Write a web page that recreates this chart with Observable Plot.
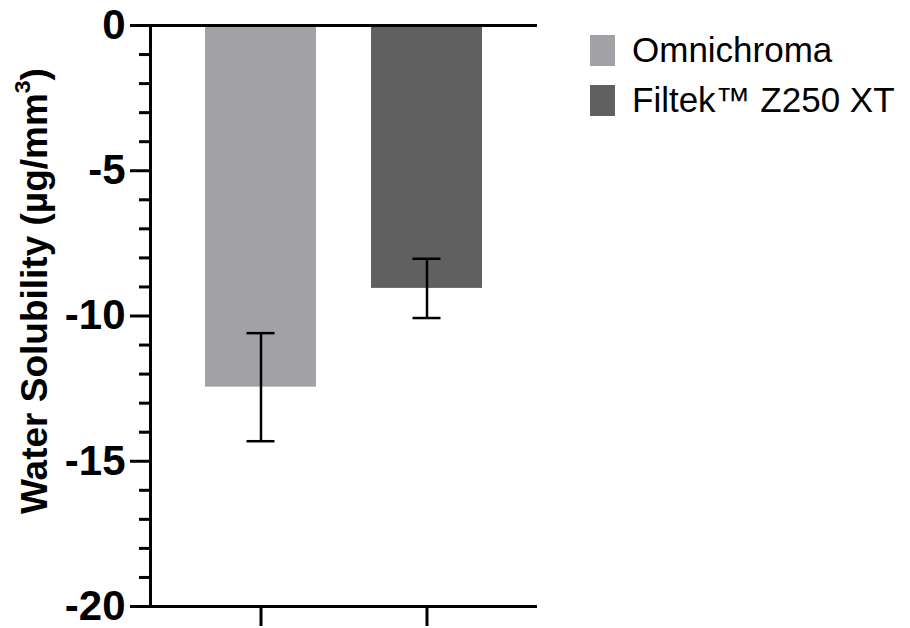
<!DOCTYPE html>
<html>
<head>
<meta charset="utf-8">
<script src="https://cdn.jsdelivr.net/npm/d3@7"></script>
<script src="https://cdn.jsdelivr.net/npm/@observablehq/plot@0.6"></script>
<style>
  html, body { margin: 0; padding: 0; background: #fff; }
  #wrap { position: relative; width: 910px; height: 628px; font-family: "Liberation Sans", Arial, sans-serif; }
  #ylabel { position: absolute; left: 35px; top: 291px; transform: translate(-50%, -50%) rotate(-90deg);
    white-space: nowrap; font-weight: 700; font-size: 37px; color: #000; }
  #ylabel sup { font-size: 0.62em; line-height: 0; vertical-align: 0.75em; }
  #legend { position: absolute; left: 590px; top: 25px; }
  .item { display: flex; align-items: center; height: 50px; }
  .sw { width: 25px; height: 31px; margin-right: 17px; }
  .lt { font-size: 35px; color: #000; white-space: nowrap; }
</style>
</head>
<body>
<div id="wrap"></div>
<script>
const materials = ["Omnichroma", "Filtek™ Z250 XT"];
const means = [-12.45, -9.05];
const sds = [1.86, 1.02];
const colors = ["#a2a2a6", "#606060"];
const yTicks = [0, -5, -10, -15, -20];
const yMinorTicks = d3.range(-19, 0).filter(v => v % 5 !== 0);

const data = materials.map((m, i) => ({material: m, mean: means[i], sd: sds[i]}));

const chart = Plot.plot({
  width: 910,
  height: 628,
  marginLeft: 150,
  marginTop: 25,
  marginBottom: 22,
  marginRight: 373,
  style: {fontFamily: '"Liberation Sans", Arial, sans-serif', background: "#fff", color: "#000"},
  x: {domain: materials, padding: 0.331, label: null, axis: null},
  y: {domain: [-20, 0], label: null, axis: null},
  color: {domain: materials, range: colors},
  marks: [
    Plot.barY(data, {x: "material", y: "mean", fill: "material"}),
    Plot.ruleX(data, {x: "material", y1: d => d.mean - d.sd, y2: d => d.mean + d.sd, stroke: "#000", strokeWidth: 2.5}),
    Plot.tickY(data, {x: "material", y: d => d.mean - d.sd, stroke: "#000", strokeWidth: 2.5, insetLeft: 41.5, insetRight: 41.5}),
    Plot.tickY(data, {x: "material", y: d => d.mean + d.sd, stroke: "#000", strokeWidth: 2.5, insetLeft: 41.5, insetRight: 41.5}),
    Plot.ruleY([0, -20], {stroke: "#000", strokeWidth: 3}),
    Plot.frame({anchor: "left", stroke: "#000", strokeWidth: 3}),
    Plot.axisY({ticks: yTicks, tickSize: 20, tickPadding: 5, strokeWidth: 3, fontSize: 42, fontWeight: "bold",
      tickFormat: d => String(d), label: null}),
    Plot.axisY({ticks: yMinorTicks, tickSize: 11, strokeWidth: 3, tickFormat: () => "", label: null}),
    Plot.axisX({tickSize: 20, strokeWidth: 3, tickFormat: () => "", label: null})
  ]
});

const wrap = document.getElementById("wrap");
wrap.appendChild(chart);

const yl = document.createElement("div");
yl.id = "ylabel";
yl.innerHTML = "Water Solubility (µg/mm<sup>3</sup>)";
wrap.appendChild(yl);

const lg = document.createElement("div");
lg.id = "legend";
materials.forEach((m, i) => {
  const it = document.createElement("div");
  it.className = "item";
  const sw = document.createElement("div");
  sw.className = "sw";
  sw.style.background = colors[i];
  const t = document.createElement("div");
  t.className = "lt";
  t.textContent = m;
  it.appendChild(sw); it.appendChild(t);
  lg.appendChild(it);
});
wrap.appendChild(lg);
</script>
</body>
</html>
